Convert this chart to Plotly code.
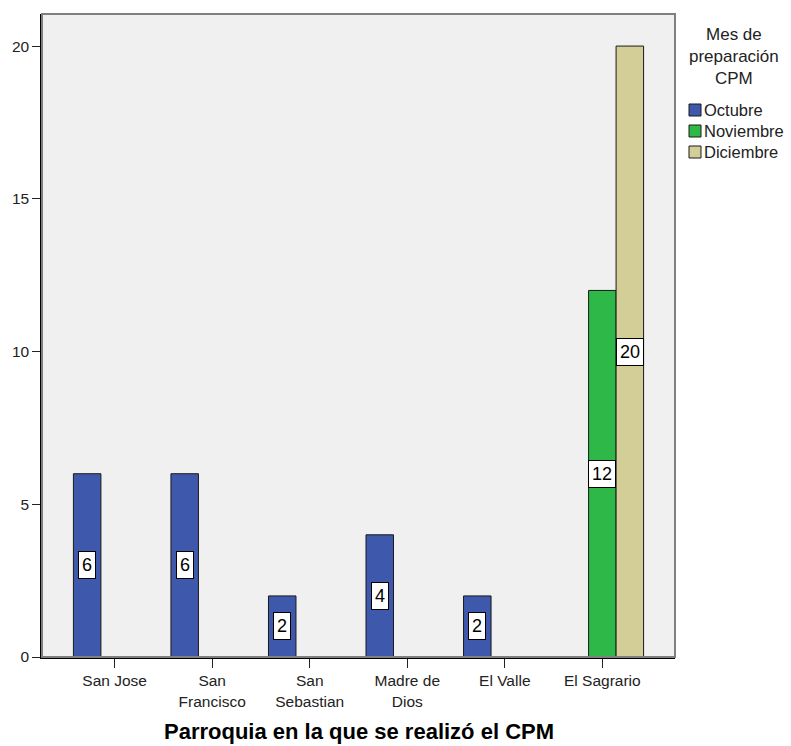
import plotly.graph_objects as go

# Data
parroquias = ["San Jose", "San Francisco", "San Sebastian", "Madre de Dios", "El Valle", "El Sagrario"]
tick_labels = ["San Jose", "San<br>Francisco", "San<br>Sebastian", "Madre de<br>Dios", "El Valle", "El Sagrario"]
meses = ["Octubre", "Noviembre", "Diciembre"]
octubre = [6, 6, 2, 4, 2, None]
noviembre = [None, None, None, None, None, 12]
diciembre = [None, None, None, None, None, 20]
y_ticks = [0, 5, 10, 15, 20]

colors = ["#3E58AC", "#2EB848", "#D3CE97"]
series = [octubre, noviembre, diciembre]
FONT = "Liberation Sans, Arial, sans-serif"

W, H = 791, 746
margin = dict(l=42, t=14, r=116, b=89)
x_range = [-0.745, 5.745]
plot_w = W - margin["l"] - margin["r"]
plot_h = H - margin["t"] - margin["b"]
bar_px = plot_w / (x_range[1] - x_range[0]) * 0.282  # width of one bar in px


# screen px (as in the reference) -> paper coords
def px_x(X):
    return (X - margin["l"]) / plot_w


def px_y(Y):
    return 1 - (Y - margin["t"]) / plot_h


fig = go.Figure()
for name, vals, col in zip(meses, series, colors):
    fig.add_trace(
        go.Bar(
            x=parroquias,
            y=vals,
            name=name,
            showlegend=False,
            marker=dict(color=col, line=dict(color="#1a1a1a", width=1)),
        )
    )

# value labels in white boxes at the middle of each bar
for i, vals in enumerate(series):
    for cat, v in zip(parroquias, vals):
        if v is None:
            continue
        fig.add_annotation(
            x=cat,
            y=v / 2,
            text=str(v),
            showarrow=False,
            xshift=(i - 1) * bar_px,
            font=dict(family=FONT, size=18, color="black"),
            bgcolor="white",
            bordercolor="black",
            borderwidth=1,
            borderpad=3,
        )

# plot frame (grey top/right, black axes drawn by the axes themselves)
fig.add_shape(
    type="rect", xref="paper", yref="paper", x0=0, y0=0, x1=1, y1=1,
    line=dict(color="#7f7f7f", width=2), layer="above",
)

# legend, SPSS style
fig.add_annotation(
    xref="paper", yref="paper", x=px_x(734), y=px_y(56),
    text="Mes de<br>preparación<br>CPM", showarrow=False,
    xanchor="center", yanchor="middle", align="center",
    font=dict(family=FONT, size=17, color="#222222"),
)
for name, col, Y in zip(meses, colors, [110, 131, 152]):
    fig.add_shape(
        type="rect", xref="paper", yref="paper",
        x0=px_x(689), x1=px_x(701), y0=px_y(Y + 6), y1=px_y(Y - 6),
        fillcolor=col, line=dict(color="#1a1a1a", width=1),
    )
    fig.add_annotation(
        xref="paper", yref="paper", x=px_x(702), y=px_y(Y),
        text=name, showarrow=False, xanchor="left", yanchor="middle",
        font=dict(family=FONT, size=16.5, color="#222222"),
    )

# x axis title
fig.add_annotation(
    xref="paper", yref="paper", x=0.5, y=px_y(746),
    text="<b>Parroquia en la que se realizó el CPM</b>", showarrow=False,
    xanchor="center", yanchor="bottom",
    font=dict(family=FONT, size=22, color="black"),
)

fig.update_layout(
    width=W,
    height=H,
    margin=margin,
    barmode="group",
    bargap=0.154,
    bargroupgap=0,
    paper_bgcolor="white",
    plot_bgcolor="#F0F0F0",
    font=dict(family=FONT, size=15.5, color="#222222"),
    showlegend=False,
    xaxis=dict(
        type="category",
        range=x_range,
        tickvals=parroquias,
        ticktext=tick_labels,
        ticks="outside",
        ticklen=9,
        tickcolor="#222222",
        showline=True,
        linecolor="black",
        linewidth=1.5,
        showgrid=False,
        automargin=False,
    ),
    yaxis=dict(
        range=[0, 21.05],
        tickvals=y_ticks,
        ticks="outside",
        ticklen=8,
        tickcolor="#222222",
        showline=True,
        linecolor="black",
        linewidth=1.5,
        showgrid=False,
        zeroline=False,
        automargin=False,
    ),
)

# drop the browser's default 8px body margin so the figure fills the window
fig.write_html(
    "out.html",
    config={"displayModeBar": False},
    post_script="document.body.style.margin='0';",
)
